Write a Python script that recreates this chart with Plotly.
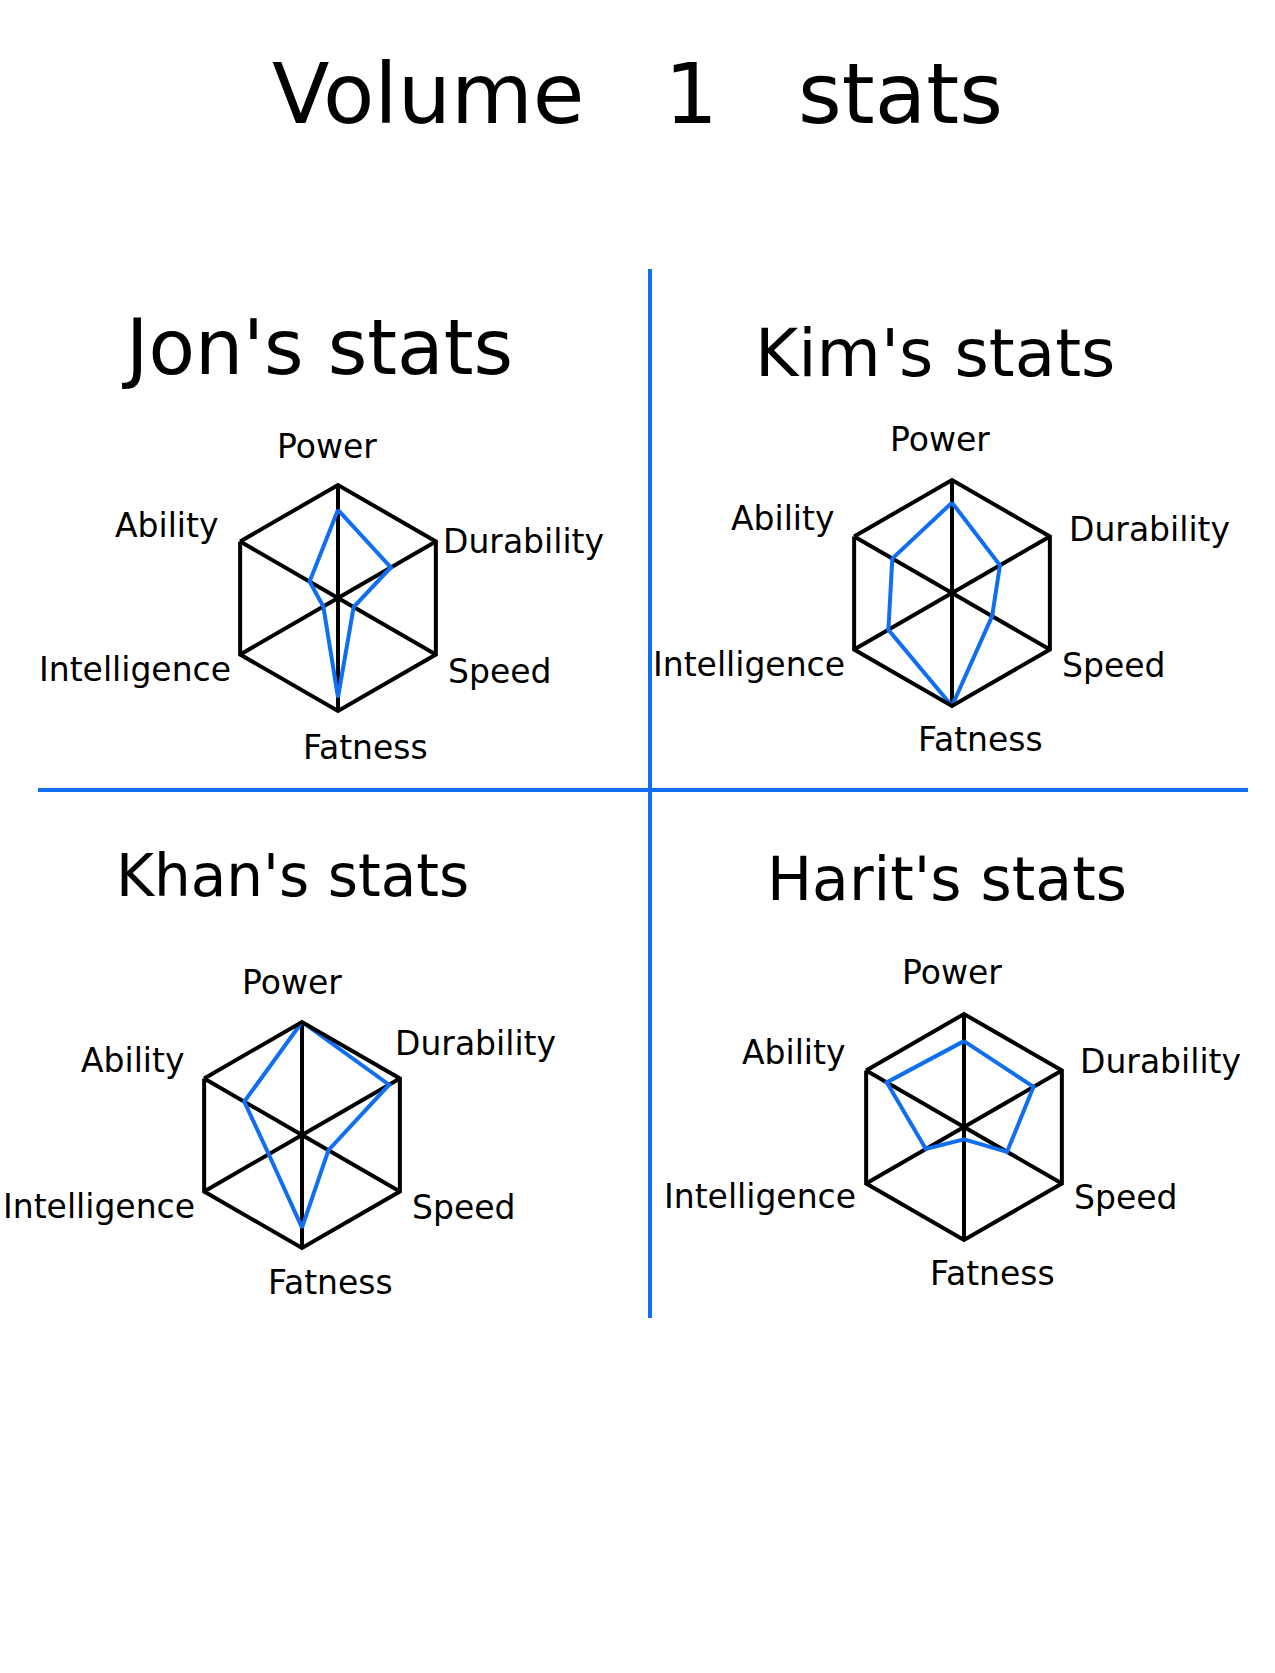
import plotly.graph_objects as go

W, H = 1275, 1673

categories = ["Power", "Durability", "Speed", "Fatness", "Intelligence", "Ability"]
names = ["Jon", "Kim", "Khan", "Harit"]
titles = ["Jon's stats", "Kim's stats", "Khan's stats", "Harit's stats"]
jon = [7.8, 5.4, 1.6, 8.8, 1.5, 2.9]
kim = [8.0, 4.9, 4.1, 10.0, 6.5, 6.1]
khan = [10.0, 8.9, 2.7, 8.2, 3.4, 5.9]
harit = [7.6, 7.1, 4.4, 1.1, 3.9, 7.9]
series = [jon, kim, khan, harit]
r_max = 10
NB = "\u00a0" * 3
main_title = "Volume" + NB + "1" + NB + "stats"

# layout (pixel positions)
centers = [(338, 598), (952, 593), (302, 1135), (964, 1127)]
R = 113
title_pos = [(317, 348), (935, 353), (292, 876), (947, 879)]
title_sizes = [76, 66, 58, 60]
label_anchor = ["center", "left", "left", "center", "right", "right"]
label_pos = [
    [(327, 446), (441, 541), (446, 671), (365, 747), (233, 670), (221, 525)],
    [(940, 440), (1067, 529), (1060, 665), (980, 740), (847, 664), (837, 518)],
    [(292, 982), (393, 1043), (410, 1207), (331, 1282), (197, 1206), (187, 1060)],
    [(952, 972), (1078, 1061), (1072, 1197), (992, 1273), (858, 1196), (848, 1052)],
]

BLUE = "#0f6ff0"
FONT = "DejaVu Sans"

def px(x):
    return x / W

def py(y):
    return 1 - y / H

fig = go.Figure()
annotations = []
layout_polars = {}
for i, (vals, cen) in enumerate(zip(series, centers)):
    key = "polar" if i == 0 else f"polar{i+1}"
    fig.add_trace(go.Scatterpolar(
        r=vals + [vals[0]],
        theta=categories + [categories[0]],
        mode="lines",
        line=dict(color=BLUE, width=4),
        cliponaxis=False,
        showlegend=False,
        hoverinfo="skip",
        subplot=key,
        name=names[i],
    ))
    cx, cy = cen
    layout_polars[key] = dict(
        domain=dict(x=[px(cx - R), px(cx + R)], y=[py(cy + R), py(cy - R)]),
        gridshape="linear",
        bgcolor="white",
        radialaxis=dict(range=[0, r_max], visible=True, showgrid=False,
                        showline=False, showticklabels=False, ticks=""),
        angularaxis=dict(rotation=90, direction="clockwise",
                         categoryorder="array", categoryarray=categories,
                         showline=True, linecolor="black", linewidth=4,
                         showgrid=True, gridcolor="black", gridwidth=4,
                         showticklabels=False, ticks=""),
    )
    tx, ty = title_pos[i]
    annotations.append(dict(text=titles[i], x=px(tx), y=py(ty), xref="paper", yref="paper",
                            showarrow=False, xanchor="center", yanchor="middle",
                            font=dict(family=FONT, size=title_sizes[i], color="black")))
    for cat, anc, (lx, ly) in zip(categories, label_anchor, label_pos[i]):
        annotations.append(dict(text=cat, x=px(lx), y=py(ly), xref="paper", yref="paper",
                                showarrow=False, xanchor=anc, yanchor="middle",
                                font=dict(family=FONT, size=33, color="black")))

annotations.append(dict(text=main_title, x=px(637), y=py(94), xref="paper", yref="paper",
                        showarrow=False, xanchor="center", yanchor="middle",
                        font=dict(family=FONT, size=84, color="black")))

shapes = [
    dict(type="line", xref="paper", yref="paper", x0=px(650), x1=px(650), y0=py(269), y1=py(1318),
         line=dict(color=BLUE, width=4)),
    dict(type="line", xref="paper", yref="paper", x0=px(38), x1=px(1248), y0=py(790), y1=py(790),
         line=dict(color=BLUE, width=4)),
]

fig.update_layout(
    width=W, height=H,
    margin=dict(l=0, r=0, t=0, b=0),
    paper_bgcolor="white", plot_bgcolor="white",
    annotations=annotations, shapes=shapes,
    **layout_polars,
)

fig.write_html("out.html")
